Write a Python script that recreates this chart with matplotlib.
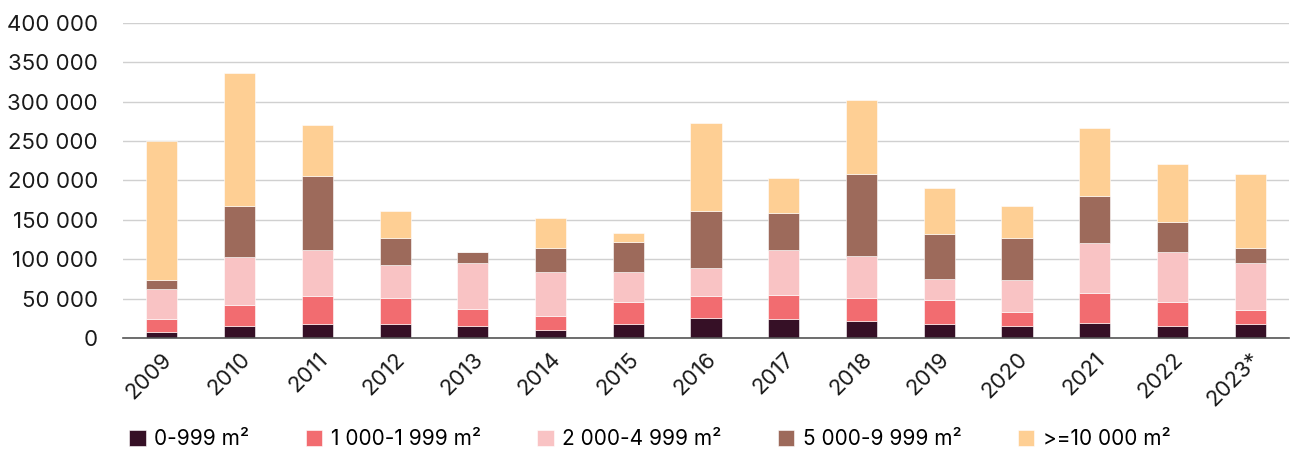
import matplotlib.pyplot as plt
import numpy as np

years = ['2009', '2010', '2011', '2012', '2013', '2014', '2015', '2016',
         '2017', '2018', '2019', '2020', '2021', '2022', '2023*']
s0 = [7600, 14800, 17400, 17400, 14800, 10200, 17400, 25800, 23700, 21200, 17400, 14800, 19100, 14800, 17400]
s1 = [16100, 26700, 35600, 33000, 21600, 17800, 28800, 27200, 31000, 29200, 30500, 17800, 37700, 31400, 17800]
s2 = [38200, 61000, 58400, 42800, 58900, 56300, 38100, 36000, 56700, 53800, 27500, 40700, 63500, 63100, 60100]
s3 = [11400, 64900, 94100, 33500, 13600, 29300, 37700, 71600, 47100, 103400, 56000, 53400, 60200, 38200, 18300]
s4 = [177100, 168600, 64800, 33900, 0, 38100, 11900, 112300, 44500, 94500, 58400, 40700, 86000, 73700, 94500]

labels = ['0-999 m²', '1 000-1 999 m²', '2 000-4 999 m²', '5 000-9 999 m²', '>=10 000 m²']
colors = ['#361026', '#f26c70', '#f9c3c4', '#9d6a5b', '#fecf94']

plt.rcParams['font.family'] = ['Inter', 'DejaVu Sans']

fig = plt.figure(figsize=(13, 4.5), dpi=100)
ax = fig.add_axes([0.0946, 0.249, 0.897, 0.700])

x = np.arange(len(years))
bottom = np.zeros(len(years))
for vals, lab, col in zip([s0, s1, s2, s3, s4], labels, colors):
    ax.bar(x, vals, 0.4, bottom=bottom, color=col, label=lab,
           edgecolor='white', linewidth=0.4, zorder=3)
    bottom += np.array(vals)

ax.set_xlim(-0.5, len(years) - 0.5)
ax.set_ylim(0, 400000)
ax.set_yticks(range(0, 400001, 50000))
ax.set_yticklabels([f'{v:,}'.replace(',', ' ') for v in range(0, 400001, 50000)])
ax.set_xticks(x)
ax.set_xticklabels(years, rotation=45, ha='right', rotation_mode='anchor')
ax.tick_params(axis='both', length=0, labelsize=16, colors='#1a1a1a')
ax.tick_params(axis='x', pad=8)
ax.tick_params(axis='y', pad=18)
ax.grid(axis='y', color='#d0d0d0', linewidth=1, zorder=0)
for sp in ['top', 'right', 'left']:
    ax.spines[sp].set_visible(False)
ax.spines['bottom'].set_color('#555555')
ax.spines['bottom'].set_linewidth(1.2)
ax.spines['bottom'].set_zorder(4)

fig.legend(loc='lower center', bbox_to_anchor=(0.5, -0.04), ncol=5, frameon=False,
           fontsize=15, handlelength=0.8, handleheight=0.8, handletextpad=0.4,
           columnspacing=2.7)

fig.savefig('out.png', dpi=100)
